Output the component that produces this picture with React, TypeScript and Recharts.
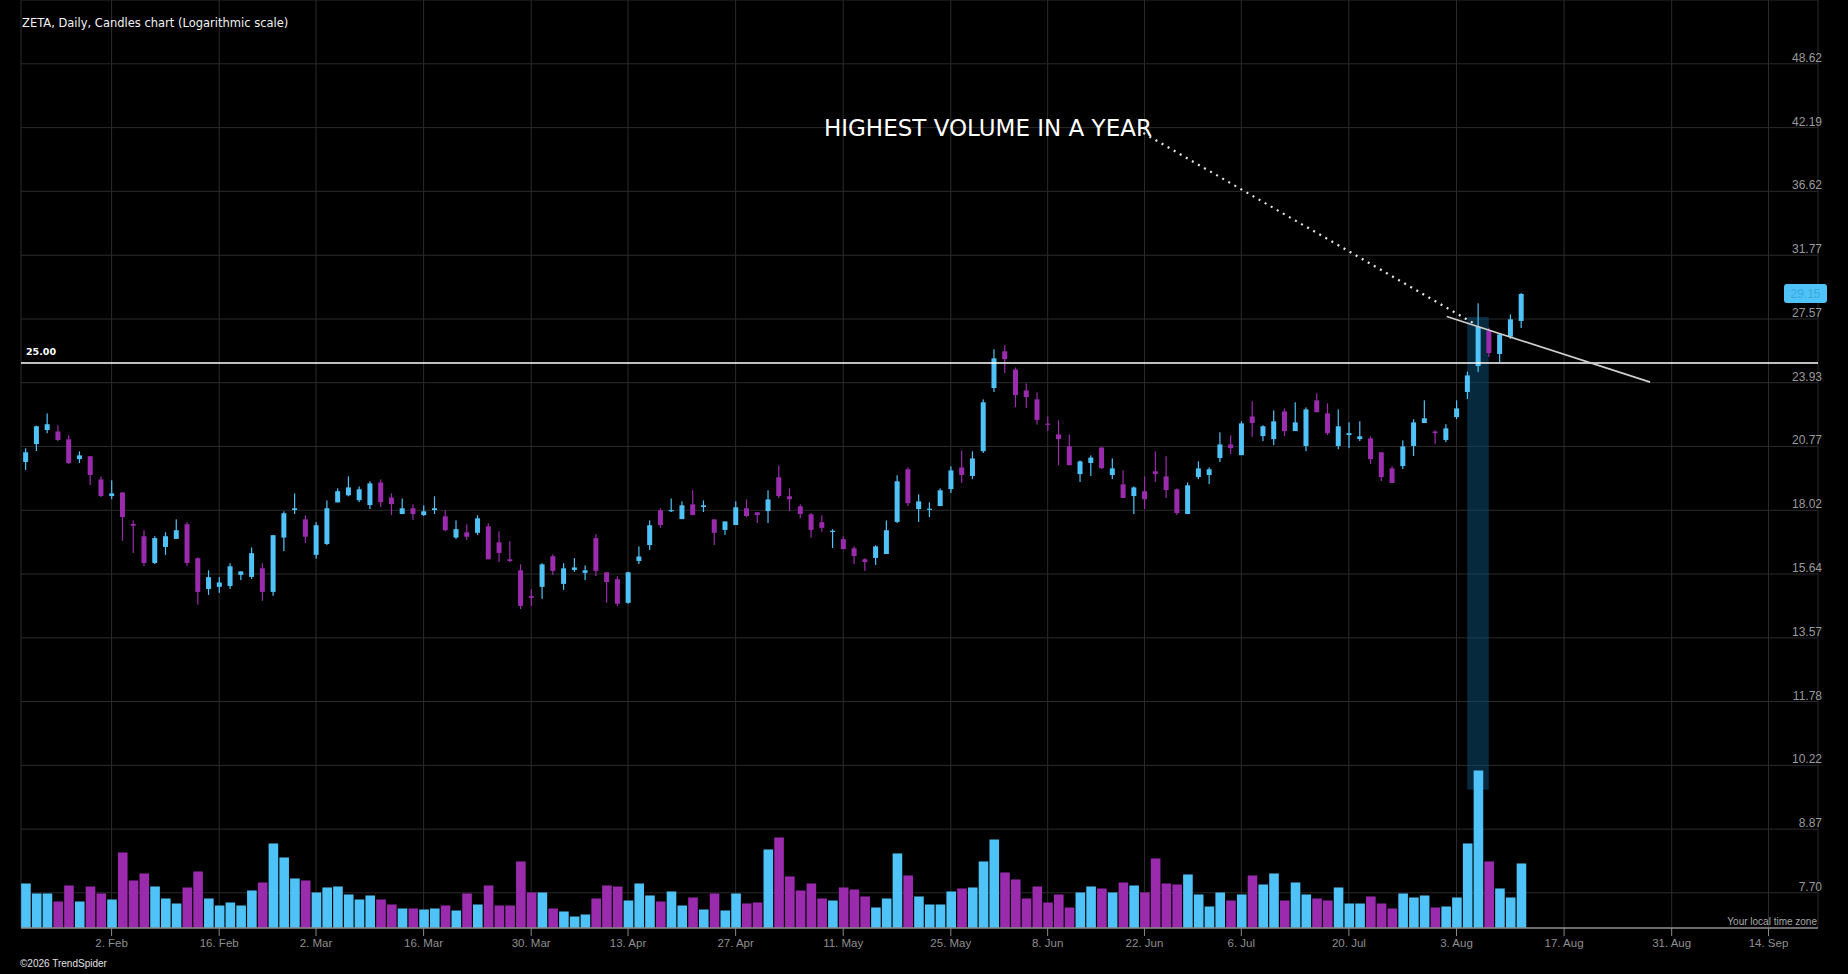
import React from 'react';
import {
  ComposedChart,
  Bar,
  XAxis,
  YAxis,
  CartesianGrid,
  ReferenceLine,
  ReferenceArea,
  ReferenceDot,
  Cell,
} from 'recharts';

// ZETA daily candles, 21 Jan 2026 (index 0) .. 11 Aug 2026 (index 139), trading-day index on x
const opens = [
  20.06, 20.88, 21.54, 21.47, 21.1, 20.19, 20.32, 19.3, 18.6, 18.75,
  17.48, 17.01, 16.03, 16.61, 16.91, 17.47, 16.2, 15.13, 15.2, 15.23,
  15.61, 15.54, 15.84, 15.03, 16.96, 18.03, 17.66, 16.32, 16.72, 18.34,
  18.63, 18.43, 18.23, 19.17, 18.54, 17.87, 18.1, 17.83, 18.03, 17.78,
  16.96, 17.16, 17.14, 17.39, 16.78, 16.16, 15.77, 14.89, 15.2, 16.27,
  15.3, 15.78, 15.68, 16.94, 15.7, 15.46, 14.67, 16.1, 16.68, 18.02,
  17.99, 17.67, 18.26, 18.15, 17.66, 17.25, 17.44, 18.1, 17.94, 17.99,
  19.39, 18.59, 18.18, 17.86, 17.55, 17.18, 16.9, 16.56, 16.16, 16.21,
  16.35, 17.56, 19.74, 18.07, 18.04, 18.19, 18.89, 19.82, 19.45, 20.55,
  23.65, 25.66, 24.64, 23.52, 23.06, 21.84, 21.33, 20.77, 19.53, 20.02,
  20.72, 19.49, 19.09, 18.6, 18.8, 19.65, 19.43, 18.88, 17.87, 19.4,
  19.49, 20.24, 20.86, 20.37, 22.2, 21.25, 21.11, 22.45, 21.49, 20.79,
  23.01, 22.35, 20.79, 21.3, 21.11, 21.14, 20.5, 19.78, 19.88, 20.79,
  21.88, 21.47, 21.07, 22.17, 23.44, 24.83, 26.86, 25.51, 26.51, 27.45,
];
const highs = [
  20.68, 21.75, 22.35, 21.77, 21.29, 20.54, 20.32, 19.43, 19.26, 18.75,
  17.62, 17.24, 17.01, 17.16, 17.66, 17.55, 16.23, 15.77, 15.53, 16.02,
  15.73, 16.59, 16.02, 17.05, 17.98, 18.71, 17.82, 17.55, 18.42, 18.92,
  19.43, 19.0, 19.22, 19.3, 18.71, 18.5, 18.26, 18.22, 18.59, 18.02,
  17.62, 17.47, 17.82, 17.51, 17.2, 16.82, 15.98, 15.12, 16.02, 16.34,
  16.02, 16.2, 15.94, 17.09, 15.7, 15.56, 15.72, 16.63, 17.62, 18.1,
  18.5, 18.38, 18.84, 18.42, 17.66, 17.58, 18.38, 18.46, 17.94, 18.84,
  19.91, 18.92, 18.26, 17.91, 17.82, 17.28, 17.01, 16.63, 16.2, 16.67,
  17.62, 19.48, 19.82, 18.67, 18.34, 18.92, 19.87, 20.58, 20.54, 23.06,
  25.77, 26.0, 24.75, 23.89, 23.42, 22.2, 22.01, 21.33, 20.13, 20.36,
  20.72, 20.22, 19.69, 19.0, 19.43, 20.54, 20.32, 18.92, 19.17, 20.09,
  19.82, 21.43, 21.29, 21.96, 22.96, 21.77, 22.5, 22.6, 22.91, 22.65,
  23.37, 22.86, 22.55, 21.91, 21.96, 21.24, 20.5, 19.87, 21.05, 22.06,
  23.01, 21.52, 21.82, 23.01, 24.53, 28.55, 27.04, 26.68, 27.85, 29.2,
];
const lows = [
  19.71, 20.56, 21.39, 21.02, 19.97, 20.02, 19.06, 18.56, 18.47, 16.84,
  16.39, 15.92, 15.99, 16.32, 16.91, 15.92, 14.61, 14.93, 15.0, 15.13,
  15.43, 15.47, 14.74, 14.9, 16.46, 17.87, 16.76, 16.18, 16.68, 18.34,
  18.59, 18.35, 18.07, 18.15, 17.83, 17.87, 17.63, 17.79, 17.87, 17.2,
  16.91, 16.87, 17.06, 16.16, 16.06, 16.06, 14.47, 14.57, 14.8, 15.61,
  15.1, 15.71, 15.43, 15.57, 14.67, 14.57, 14.64, 15.99, 16.5, 17.33,
  17.95, 17.67, 17.83, 17.95, 16.68, 17.06, 17.44, 17.75, 17.52, 17.52,
  18.52, 17.99, 17.71, 16.96, 17.18, 16.57, 16.53, 15.99, 15.75, 15.96,
  16.35, 17.52, 18.19, 17.56, 17.75, 18.19, 18.73, 19.15, 19.31, 20.47,
  23.44, 24.45, 22.66, 22.62, 21.8, 21.49, 19.92, 19.92, 19.19, 19.45,
  19.75, 19.31, 18.52, 17.87, 18.07, 19.19, 18.52, 17.83, 17.87, 19.31,
  19.1, 20.06, 20.42, 20.37, 21.21, 21.02, 20.83, 21.25, 21.49, 20.55,
  22.41, 21.3, 20.64, 20.69, 21.02, 19.97, 19.23, 19.15, 19.75, 20.33,
  21.88, 20.88, 20.97, 22.07, 23.08, 24.5, 25.34, 25.05, 26.38, 27.02,
];
const closes = [
  20.5, 21.72, 21.82, 21.07, 20.02, 20.36, 19.49, 18.6, 18.71, 17.75,
  17.41, 16.03, 16.94, 17.01, 17.24, 16.03, 15.03, 15.53, 15.35, 15.91,
  15.73, 16.38, 15.03, 17.05, 17.9, 18.1, 16.99, 17.43, 18.1, 18.8,
  18.96, 18.88, 19.13, 18.35, 18.27, 18.1, 17.87, 17.98, 18.1, 17.24,
  17.28, 16.99, 17.7, 16.16, 16.39, 16.1, 14.57, 14.83, 15.98, 15.75,
  15.84, 15.87, 15.77, 15.75, 15.36, 14.64, 15.7, 16.26, 17.43, 17.44,
  18.02, 18.22, 17.83, 18.22, 17.14, 17.58, 18.14, 17.79, 17.83, 18.46,
  18.6, 18.47, 17.87, 17.25, 17.33, 17.21, 16.53, 16.28, 16.06, 16.63,
  17.24, 19.22, 18.31, 18.38, 18.08, 18.84, 19.69, 19.49, 20.22, 22.91,
  25.26, 25.22, 23.28, 23.18, 22.03, 21.8, 21.11, 19.92, 20.09, 20.26,
  19.79, 19.78, 18.52, 18.96, 18.47, 19.53, 18.85, 17.91, 19.05, 19.78,
  19.74, 20.86, 20.69, 21.86, 21.88, 21.72, 21.96, 21.49, 21.91, 22.55,
  22.41, 21.39, 21.72, 21.39, 21.24, 20.19, 19.4, 19.15, 20.77, 21.91,
  22.11, 21.39, 21.62, 22.6, 24.32, 27.1, 25.56, 26.64, 27.55, 29.15,
];
// volume in millions of shares (relative)
const volumes = [
  8.9, 6.9, 6.9, 5.3, 8.5, 5.3, 8.3, 6.9, 5.7, 15.1,
  9.5, 10.9, 8.3, 5.9, 4.9, 8.1, 11.3, 5.9, 4.5, 5.1,
  4.5, 7.5, 9.1, 16.9, 14.1, 9.9, 9.5, 7.1, 8.1, 8.3,
  6.7, 5.7, 6.5, 5.7, 4.7, 3.9, 3.9, 3.7, 3.9, 4.5,
  3.5, 6.9, 4.7, 8.5, 4.5, 4.5, 13.3, 7.1, 7.1, 3.9,
  3.3, 2.3, 2.7, 5.9, 8.5, 8.3, 5.5, 8.9, 6.5, 5.3,
  7.3, 4.5, 6.1, 3.7, 6.9, 3.5, 6.9, 4.9, 5.1, 15.7,
  18.1, 10.3, 7.5, 8.9, 5.9, 5.5, 8.1, 7.7, 6.3, 4.1,
  5.9, 14.9, 10.5, 6.3, 4.7, 4.7, 7.3, 7.9, 8.1, 13.3,
  17.7, 11.1, 9.7, 5.9, 8.3, 5.1, 6.7, 4.1, 7.1, 8.3,
  7.9, 7.1, 9.1, 8.5, 7.1, 13.9, 8.9, 8.7, 10.7, 6.7,
  4.3, 7.1, 5.5, 6.7, 10.5, 8.7, 10.9, 5.5, 9.1, 6.7,
  5.9, 5.5, 8.1, 4.9, 4.9, 6.3, 4.9, 3.9, 6.9, 6.1,
  6.5, 4.1, 4.3, 6.1, 16.9, 31.5, 13.3, 7.9, 6.1, 12.9,
];

const tickIndex = [8, 18, 27, 37, 47, 56, 66, 76, 86, 95, 104, 113, 123, 133, 143, 153, 162];
const tickLabels = [
  '2. Feb', '16. Feb', '2. Mar', '16. Mar', '30. Mar', '13. Apr', '27. Apr', '11. May',
  '25. May', '8. Jun', '22. Jun', '6. Jul', '20. Jul', '3. Aug', '17. Aug', '31. Aug', '14. Sep',
];
// gridline levels; the top one (56.03) sits on the upper edge and has no visible label
const priceTicks = [7.7, 8.87, 10.22, 11.78, 13.57, 15.64, 18.02, 20.77, 23.93, 27.57, 31.77, 36.62, 42.19, 48.62, 56.03];

const levelPrice = 25.0;
const lastPrice = 29.15;
const trendLine = [{ x: 132.1, y: 27.72 }, { x: 151.0, y: 23.96 }];
const noteLine = [{ x: 103.9, y: 41.69 }, { x: 134.6, y: 27.31 }];
const noteText = 'HIGHEST VOLUME IN A YEAR';
const highlightX = [134, 136];
const highlightY = [9.68, 27.7];

const UP = '#4fc3f7';
const DOWN = '#9b2bad';
const GRID = '#2b2b2b';
const AXIS_FONT = '"Liberation Sans", Arial, sans-serif';
const UI_FONT = '"DejaVu Sans", Verdana, sans-serif';

const data = opens.map((o, i) => ({
  i,
  wick: [lows[i], highs[i]],
  body: [Math.min(o, closes[i]), Math.max(o, closes[i])],
  vol: volumes[i],
  up: closes[i] >= o,
}));

const X_DOMAIN: [number, number] = [-0.42, 166.6];
const P_DOMAIN: [number, number] = [7.12, 56.03];

const BodyShape = (props: any) => {
  const { x, y, width, height, payload } = props;
  if (x == null || y == null) return null;
  const top = Math.min(y, y + height);
  let h = Math.abs(height);
  let yy = top;
  if (h < 1.2) {
    yy = top - (1.2 - h) / 2;
    h = 1.2;
  }
  return <rect x={x} y={yy} width={width} height={h} fill={payload && payload.up ? UP : DOWN} />;
};

const WickShape = (props: any) => {
  const { x, y, width, height, payload } = props;
  if (x == null || y == null) return null;
  const top = Math.min(y, y + height);
  const h = Math.max(Math.abs(height), 1);
  return <rect x={x + width / 2 - 0.6} y={top} width={1.2} height={h} fill={payload && payload.up ? UP : DOWN} />;
};

const PriceTick = (props: any) => {
  const { x, y, payload } = props;
  if (y < 12) return null;
  return (
    <text x={x + 4} y={y - 2} textAnchor="end" fill="#9a9a9a" fontSize={12} fontFamily={AXIS_FONT}>
      {Number(payload.value).toFixed(2)}
    </text>
  );
};

const LevelLabel = (props: any) => {
  const vb = props.viewBox || {};
  return (
    <text x={vb.x + 5} y={vb.y - 8} fill="#ffffff" fontSize={9.5} fontWeight="bold" fontFamily={UI_FONT}>
      {levelPrice.toFixed(2)}
    </text>
  );
};

const PriceTag = (props: any) => {
  const vb = props.viewBox || {};
  const right = vb.x + vb.width;
  return (
    <g>
      <rect x={right - 34} y={vb.y - 10} width={43} height={19} rx={3} ry={3} fill={UP} />
      <text x={right - 12.5} y={vb.y + 4} textAnchor="middle" fill="#3aa9dc" fontSize={12} fontFamily={AXIS_FONT}>
        {lastPrice.toFixed(2)}
      </text>
    </g>
  );
};

const NoteLabel = (props: any) => {
  const vb = props.viewBox || {};
  const cx = vb.x + (vb.width || 0) / 2;
  const cy = vb.y + (vb.height || 0) / 2;
  return (
    <text x={cx + 8.5} y={cy + 2.7} textAnchor="end" fill="#ffffff" fontSize={23} fontFamily={UI_FONT}>
      {noteText}
    </text>
  );
};

export default function App() {
  return (
    <div
      style={{
        position: 'fixed',
        left: 0,
        top: 0,
        width: 1848,
        height: 974,
        background: '#000',
        overflow: 'hidden',
      }}
    >
      <ComposedChart
        width={1848}
        height={974}
        data={data}
        margin={{ top: 0, right: 0, bottom: 0, left: 21 }}
        style={{ background: '#000' }}
      >
        <CartesianGrid xAxisId="x" yAxisId="price" stroke={GRID} strokeWidth={1} />
        <XAxis
          xAxisId="x"
          dataKey="i"
          type="number"
          domain={X_DOMAIN}
          allowDataOverflow
          ticks={tickIndex}
          interval={0}
          tickFormatter={(v: number) => tickLabels[tickIndex.indexOf(v)] ?? ''}
          height={46}
          tickSize={8}
          tickMargin={3}
          axisLine={{ stroke: '#8a8a8a', strokeWidth: 1.5 }}
          tickLine={{ stroke: '#8a8a8a' }}
          tick={{ fill: '#8f8f8f', fontSize: 11.5, fontFamily: AXIS_FONT }}
        />
        <XAxis xAxisId="xb" dataKey="i" type="number" domain={X_DOMAIN} allowDataOverflow hide />
        <XAxis xAxisId="xw" dataKey="i" type="number" domain={X_DOMAIN} allowDataOverflow hide />
        <YAxis
          yAxisId="price"
          orientation="right"
          scale="log"
          domain={P_DOMAIN}
          allowDataOverflow
          ticks={priceTicks}
          interval={0}
          width={30}
          tickSize={0}
          tickMargin={0}
          axisLine={false}
          tickLine={false}
          tick={<PriceTick />}
        />
        <YAxis yAxisId="vol" hide domain={[0, 185.5]} allowDataOverflow />

        <ReferenceArea
          xAxisId="x"
          yAxisId="price"
          x1={highlightX[0]}
          x2={highlightX[1]}
          y1={highlightY[0]}
          y2={highlightY[1]}
          fill="#0b4a70"
          fillOpacity={0.55}
          stroke="none"
          ifOverflow="visible"
        />

        <Bar xAxisId="x" yAxisId="vol" dataKey="vol" barSize={9.6} isAnimationActive={false}>
          {data.map((d) => (
            <Cell key={d.i} fill={d.up ? UP : DOWN} />
          ))}
        </Bar>
        <Bar xAxisId="xw" yAxisId="price" dataKey="wick" barSize={1} shape={<WickShape />} isAnimationActive={false} />
        <Bar xAxisId="xb" yAxisId="price" dataKey="body" barSize={5} shape={<BodyShape />} isAnimationActive={false} />

        <ReferenceLine
          xAxisId="x"
          yAxisId="price"
          y={levelPrice}
          stroke="#ffffff"
          strokeWidth={1.5}
          label={<LevelLabel />}
        />
        <ReferenceLine
          xAxisId="x"
          yAxisId="price"
          y={lastPrice}
          stroke="#000"
          strokeOpacity={0}
          label={<PriceTag />}
        />
        <ReferenceLine
          xAxisId="x"
          yAxisId="price"
          segment={trendLine}
          stroke="#cfcfcf"
          strokeWidth={1.6}
          ifOverflow="visible"
        />
        <ReferenceLine
          xAxisId="x"
          yAxisId="price"
          segment={noteLine}
          stroke="#e6e6e6"
          strokeWidth={2.2}
          strokeDasharray="2 5"
          ifOverflow="visible"
        />
        <ReferenceDot
          xAxisId="x"
          yAxisId="price"
          x={noteLine[0].x}
          y={noteLine[0].y}
          r={0}
          fill="none"
          stroke="none"
          ifOverflow="visible"
          label={<NoteLabel />}
        />
      </ComposedChart>

      <svg
        width={1848}
        height={974}
        style={{ position: 'absolute', left: 0, top: 0, pointerEvents: 'none' }}
      >
        <text x={22} y={27} fill="#f2f2f2" fontSize={11.5} fontFamily={UI_FONT}>
          ZETA, Daily, Candles chart (Logarithmic scale)
        </text>
        <text x={1817} y={925} textAnchor="end" fill="#a8a8a8" fontSize={10} fontFamily={AXIS_FONT}>
          Your local time zone
        </text>
        <text x={20} y={967} fill="#e0e0e0" fontSize={10} fontFamily={AXIS_FONT}>
          ©2026 TrendSpider
        </text>
      </svg>
    </div>
  );
}
